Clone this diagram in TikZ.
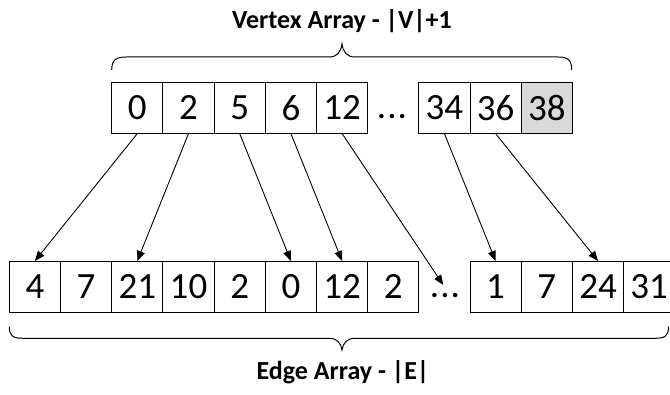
\documentclass[tikz,border=0pt]{standalone}
\usepackage{fontspec}
\setmainfont{Carlito}
\usetikzlibrary{arrows.meta}

\begin{document}
\begin{tikzpicture}[x=1pt,y=-1pt,
  cell/.style={draw=black, line width=1pt, minimum width=51.2pt,
    minimum height=50.6pt, inner sep=0pt, anchor=center,
    font=\fontsize{37}{40}\selectfont},
  lastcell/.style={cell, fill=black!15},
  gap/.style={anchor=base, inner sep=0pt, font=\fontsize{37}{40}\selectfont},
  heading/.style={anchor=base, inner sep=0pt, font=\bfseries\fontsize{26}{30}\selectfont},
  link/.style={line width=0.9pt, -{Triangle[length=10pt,width=8pt]}},
  brace/.style={line width=1pt},
]
\useasboundingbox (0,0) rectangle (670,395);

% vertex array
\node[cell] (v0) at (137.3,107.8) {0};
\node[cell] (v1) at (188.5,107.8) {2};
\node[cell] (v2) at (239.7,107.8) {5};
\node[cell] (v3) at (290.9,107.8) {6};
\node[cell] (v4) at (342.1,107.8) {12};
\node[gap]  (vd) at (392,119) {.\kern1pt.\kern1pt.};
\node[cell] (v5) at (444.4,107.8) {34};
\node[cell] (v6) at (495.6,107.8) {36};
\node[lastcell] (v7) at (546.8,107.8) {38};

% edge array
\node[cell] (e0)  at (34.9,286.8) {4};
\node[cell] (e1)  at (86.1,286.8) {7};
\node[cell] (e2)  at (137.3,286.8) {21};
\node[cell] (e3)  at (188.5,286.8) {10};
\node[cell] (e4)  at (239.7,286.8) {2};
\node[cell] (e5)  at (290.9,286.8) {0};
\node[cell] (e6)  at (342.1,286.8) {12};
\node[cell] (e7)  at (393.3,286.8) {2};
\node[gap]  (ed)  at (445,297.5) {.\kern1pt.\kern1pt.};
\node[cell] (e8)  at (495.6,286.8) {1};
\node[cell] (e9)  at (546.8,286.8) {7};
\node[cell] (e10) at (598.0,286.8) {24};
\node[cell] (e11) at (649.2,286.8) {31};
\coordinate (edtop) at (443.3,285);

% offsets into the edge array
\draw[link] (v0.south) -- (e0.north);
\draw[link] (v1.south) -- (e2.north);
\draw[link] (v2.south) -- (e5.north);
\draw[link] (v3.south) -- (e6.north);
\draw[link] (v4.south) -- (edtop);
\draw[link] (v5.south) -- (e8.north);
\draw[link] (v6.south) -- (e10.north);

% braces
\draw[brace] (111.7,70) .. controls (111.7,60) and (116,57) .. (126,57)
  -- (329,57) .. controls (337,57) and (341,52) .. (342,44)
  .. controls (343,52) and (347,57) .. (355,57)
  -- (558,57) .. controls (568,57) and (571.7,60) .. (571.7,70);
\draw[brace] (9.3,326.7) .. controls (9.3,336) and (13,338.3) .. (23,338.3)
  -- (329,338.3) .. controls (337,338.3) and (341,343) .. (342,350)
  .. controls (343,343) and (347,338.3) .. (355,338.3)
  -- (655,338.3) .. controls (665,338.3) and (668.5,336) .. (668.5,326.7);

% headings
\node[heading] (vt) at (342,28.3) {Vertex Array - |V|+1};
\node[heading] (et) at (343,379.3) {Edge Array - |E|};
\end{tikzpicture}
\end{document}
